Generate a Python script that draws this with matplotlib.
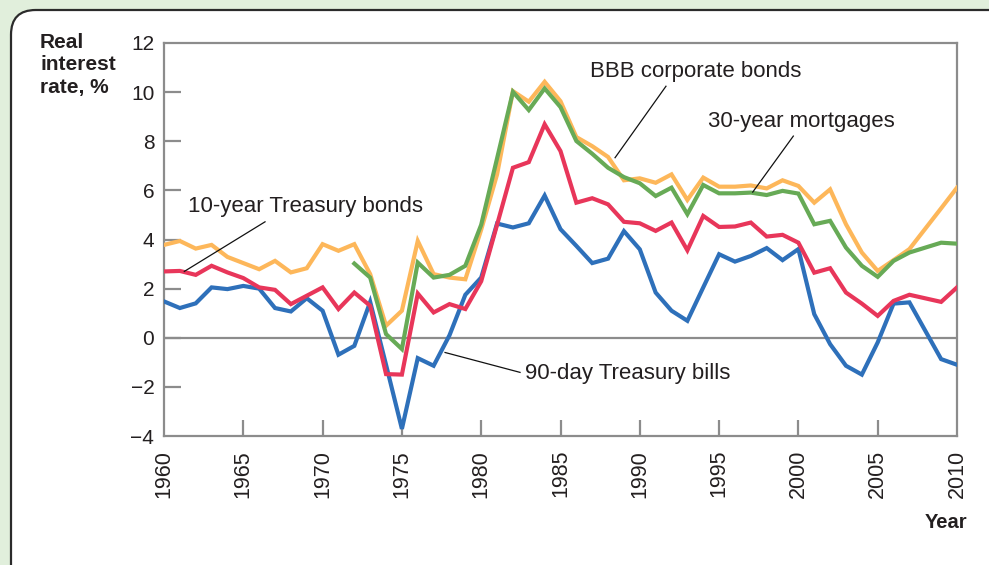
import numpy as np
import matplotlib
matplotlib.use("Agg")
import matplotlib.pyplot as plt
from matplotlib.patches import FancyBboxPatch

plt.rcParams['font.family'] = ['Liberation Sans', 'DejaVu Sans']

years = list(range(1960, 2008)) + [2009, 2010]

tbills = [1.48, 1.21, 1.40, 2.05, 1.98, 2.11, 2.00, 1.21, 1.07, 1.61,
          1.10, -0.69, -0.33, 1.46, -1.10, -3.71, -0.83, -1.14, 0.10, 1.75,
          2.45, 4.65, 4.49, 4.66, 5.79, 4.42, 3.74, 3.04, 3.22, 4.34,
          3.60, 1.84, 1.10, 0.69, 2.05, 3.40, 3.10, 3.33, 3.65, 3.16,
          3.61, 0.96, -0.26, -1.14, -1.50, -0.19, 1.39, 1.44, -0.87, -1.10]

tbonds10 = [2.70, 2.72, 2.56, 2.93, 2.66, 2.43, 2.05, 1.95, 1.37, 1.71,
            2.05, 1.17, 1.84, 1.30, -1.48, -1.50, 1.80, 1.03, 1.37, 1.17,
            2.30, 4.60, 6.92, 7.15, 8.69, 7.60, 5.50, 5.68, 5.43, 4.72,
            4.66, 4.35, 4.69, 3.56, 4.96, 4.51, 4.53, 4.69, 4.12, 4.19,
            3.87, 2.65, 2.83, 1.84, 1.39, 0.89, 1.50, 1.75, 1.46, 2.05]

bbb = [3.78, 3.94, 3.63, 3.78, 3.29, 3.04, 2.79, 3.13, 2.66, 2.83,
       3.81, 3.54, 3.81, 2.59, 0.49, 1.10, 3.94, 2.59, 2.45, 2.38,
       4.40, 6.65, 10.04, 9.61, 10.42, 9.63, 8.17, 7.80, 7.36, 6.41,
       6.49, 6.31, 6.65, 5.61, 6.52, 6.15, 6.15, 6.20, 6.08, 6.41,
       6.18, 5.50, 6.04, 4.62, 3.47, 2.72, 3.16, 3.61, 5.27, 6.11]

mortgage_years = list(range(1972, 2008)) + [2009, 2010]
mortgages = [3.02, 2.45, 0.15, -0.46, 3.06, 2.45, 2.56, 2.93,
             4.60, 7.30, 10.01, 9.27, 10.15, 9.39, 8.01, 7.49, 6.92, 6.54,
             6.29, 5.77, 6.11, 5.03, 6.22, 5.88, 5.88, 5.91, 5.81, 5.98,
             5.87, 4.62, 4.76, 3.67, 2.93, 2.48, 3.13, 3.47, 3.87, 3.83]

yticks = [-4, -2, 0, 2, 4, 6, 8, 10, 12]
xticks = list(range(1960, 2011, 5))

W, H = 989, 565
fig = plt.figure(figsize=(W / 100, H / 100), dpi=100)
fig.patch.set_facecolor('#e1efdc')

panel = FancyBboxPatch((11 / W, -40 / H), 1.2, (H - 10 + 40) / H,
                       boxstyle="round,pad=0,rounding_size=0.025",
                       transform=fig.transFigure, facecolor='white',
                       edgecolor='#2b2b2b', linewidth=1.6, zorder=-5,
                       mutation_aspect=W / H)
fig.patches.append(panel)

ax = fig.add_axes([164 / W, 1 - 436 / H, (957 - 164) / W, (436 - 43) / H])
ax.set_facecolor('none')
ax.set_zorder(2)

TXT = '#231f20'
GRAY = '#8c8c8c'

ax.plot(years, bbb, color='#fdb75a', lw=3.0, solid_joinstyle='miter', zorder=3)
ax.plot(mortgage_years, mortgages, color='#67aa56', lw=3.0, solid_joinstyle='miter', zorder=4)
ax.plot(years, tbills, color='#2e70ba', lw=3.0, solid_joinstyle='miter', zorder=5)
ax.plot(years, tbonds10, color='#e8365a', lw=3.0, solid_joinstyle='miter', zorder=6)

ax.axhline(0, color=GRAY, lw=1.6, zorder=2)

ax.set_xlim(1960, 2010)
ax.set_ylim(-4, 12)
for s in ax.spines.values():
    s.set_color(GRAY)
    s.set_linewidth(1.6)

ax.set_yticks(yticks)
ax.set_yticklabels([str(t).replace('-', '\u2212') for t in yticks])
ax.set_xticks(xticks)
ax.set_xticklabels([str(t) for t in xticks], rotation=90)
ax.tick_params(axis='y', direction='in', length=12, width=1.6, color=GRAY,
               labelsize=15, labelcolor=TXT, pad=7)
ax.tick_params(axis='x', direction='in', length=11.5, width=1.6, color=GRAY,
               labelsize=15.5, labelcolor=TXT, pad=10)
for t, lab in zip(ax.xaxis.get_major_ticks(), xticks):
    if lab == 1980:
        t.tick1line.set_color('#111111')
for t, lab in zip(ax.yaxis.get_major_ticks(), yticks):
    if lab in (-4, 12):
        t.tick1line.set_visible(False)
for t, lab in zip(ax.xaxis.get_major_ticks(), xticks):
    if lab in (1960, 2010):
        t.tick1line.set_visible(False)

fs = 16
ax.text(1986.86, 10.61, 'BBB corporate bonds', fontsize=fs, color=TXT, va='baseline', ha='left')
ax.plot([1991.65, 1988.44], [10.24, 7.33], color='#111111', lw=0.9, zorder=7)
ax.text(1994.3, 8.58, '30-year mortgages', fontsize=fs, color=TXT, va='baseline', ha='left')
ax.plot([1999.68, 1997.12], [8.21, 5.93], color='#111111', lw=0.9, zorder=7)
ax.text(1961.53, 5.12, '10-year Treasury bonds', fontsize=fs, color=TXT, va='baseline', ha='left')
ax.plot([1966.37, 1961.28], [4.72, 2.70], color='#111111', lw=0.9, zorder=7)
ax.text(1982.76, -1.68, '90-day Treasury bills', fontsize=fs, color=TXT, va='baseline', ha='left')
ax.plot([1977.72, 1982.45], [-0.60, -1.41], color='#111111', lw=0.9, zorder=7)

fig.text(40 / W, 1 - 33 / H, 'Real\ninterest\nrate, %', fontsize=15, fontweight='bold',
         color=TXT, va='top', ha='left', linespacing=1.22)
fig.text(967 / W, 1 - 523 / H, 'Year', fontsize=14.5, fontweight='bold',
         color=TXT, va='center', ha='right')

fig.savefig('out.png', dpi=100, facecolor=fig.get_facecolor())
